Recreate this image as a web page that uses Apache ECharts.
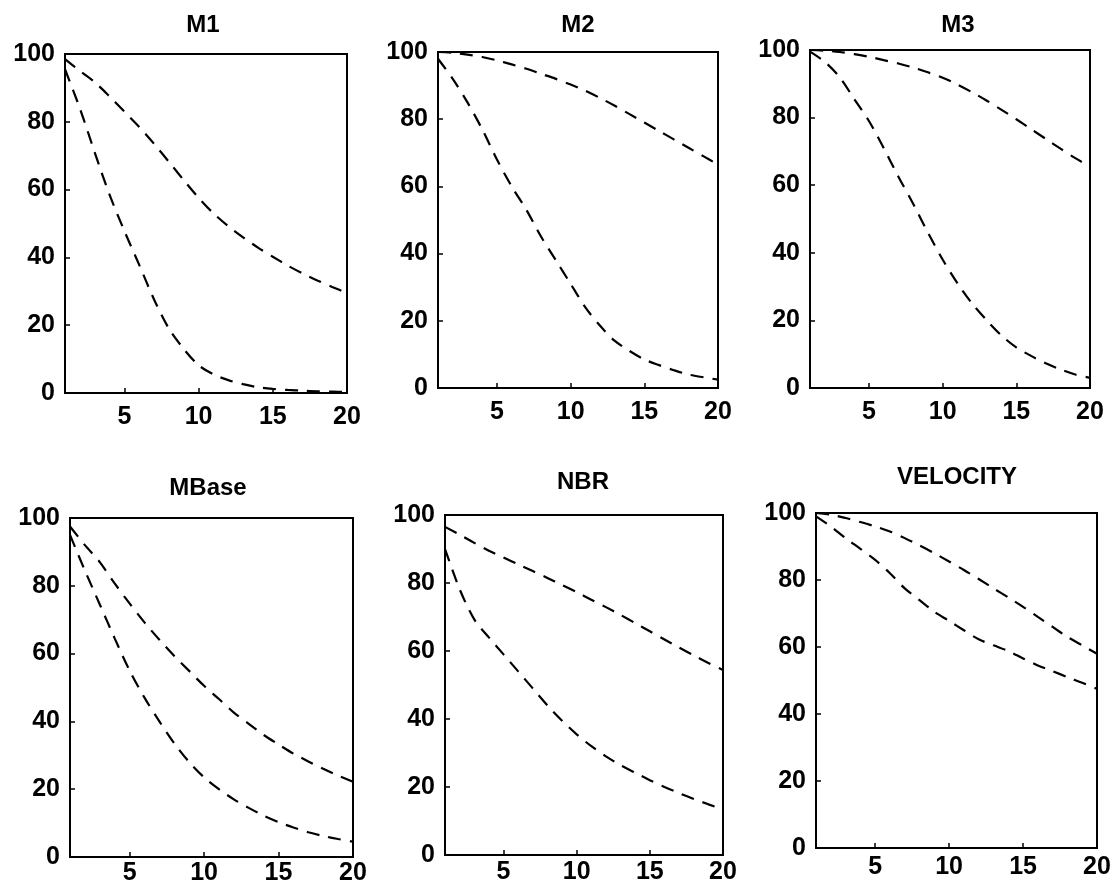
<!DOCTYPE html>
<html>
<head>
<meta charset="utf-8">
<script src="https://cdn.jsdelivr.net/npm/echarts@6/dist/echarts.min.js"></script>
<style>
  html, body { margin: 0; padding: 0; background: #fff; }
  #chart { width: 1119px; height: 896px; }
</style>
</head>
<body>
<div id="chart"></div>
<script>
// x positions shared by every curve
const X = [1, 2, 3, 4, 5, 6, 7, 8, 9, 10, 11, 12, 13, 14, 15, 16, 17, 18, 19, 20];
const X_TICKS = [5, 10, 15, 20];
const TITLES = ["M1", "M2", "M3", "MBase", "NBR", "VELOCITY"];

// values, upper and lower dashed curve per panel
const M1_UPPER = [98.5, 95, 91.7, 87.5, 83, 78.5, 73.5, 68.2, 62.8, 57.6, 53, 49.2, 45.9, 42.9, 40.2, 37.6, 35.3, 33.2, 31.3, 29.5];
const M1_LOWER = [95.5, 84, 71, 58.5, 47.8, 37.8, 27.6, 19, 13, 8.2, 5.5, 3.8, 2.6, 1.7, 1.2, 0.9, 0.7, 0.5, 0.4, 0.3];
const M2_UPPER = [100, 99.8, 99.2, 98.5, 97.5, 96.3, 95, 93.5, 92, 90.3, 88.5, 86.3, 84, 81.5, 79, 76.5, 74, 71.5, 69, 66.5];
const M2_LOWER = [98, 92, 85, 77, 68, 60, 53, 45, 38, 31, 24, 18.5, 14, 11, 8.5, 6.8, 5.3, 4, 3.2, 2.5];
const M3_UPPER = [100, 99.8, 99.4, 98.8, 98, 97, 96, 94.8, 93.4, 91.8, 89.8, 87.5, 85, 82.3, 79.5, 76.6, 73.7, 70.8, 68, 65.5];
const M3_LOWER = [99.5, 96.5, 92, 85.5, 79, 71, 62.5, 54.5, 46, 38, 31, 25, 20, 15.5, 12, 9.5, 7.3, 5.5, 4, 3];
const MBASE_UPPER = [97.5, 92, 87, 80.7, 74.8, 69.2, 64.1, 59.3, 54.9, 50.5, 46.6, 42.6, 39.3, 36, 33.2, 30.5, 28.2, 26, 24, 22.2];
const MBASE_LOWER = [95, 84.5, 74.5, 64.5, 55, 47, 40, 33.5, 28, 23.5, 20, 17, 14.5, 12.2, 10.3, 8.7, 7.3, 6.2, 5.3, 4.5];
const NBR_UPPER = [96.5, 94.2, 91.8, 89.5, 87.5, 85.5, 83.5, 81.5, 79.4, 77.3, 75.1, 72.9, 70.6, 68.2, 65.8, 63.4, 61, 58.7, 56.5, 54.4];
const NBR_LOWER = [90, 78.2, 69.3, 64, 59, 54, 49, 44, 39.5, 35.5, 32, 29, 26.4, 24.2, 22, 20, 18.2, 16.5, 14.9, 13.4];
const VEL_UPPER = [100, 99.5, 98.5, 97.3, 96, 94.5, 92.5, 90.3, 88, 85.5, 83, 80.3, 77.5, 74.8, 72, 69, 66, 63, 60.5, 58];
const VEL_LOWER = [99, 96, 92.5, 89.3, 86, 82, 77.5, 74, 70.5, 67.8, 65, 62.3, 60.5, 58.8, 56.6, 54.5, 52.8, 51, 49.3, 47.5];

const CURVES = [
  [M1_UPPER, M1_LOWER],
  [M2_UPPER, M2_LOWER],
  [M3_UPPER, M3_LOWER],
  [MBASE_UPPER, MBASE_LOWER],
  [NBR_UPPER, NBR_LOWER],
  [VEL_UPPER, VEL_LOWER],
];

// frame boxes, title centres and x-label gap, in page pixels
const FRAMES = [
  { left: 65, top: 54, width: 282, height: 339, tx: 203, ty: 25, gap: 12 },
  { left: 438, top: 52, width: 280, height: 336, tx: 578, ty: 25, gap: 12 },
  { left: 810, top: 50, width: 280, height: 338, tx: 958, ty: 25, gap: 12 },
  { left: 70, top: 518, width: 283, height: 339, tx: 208, ty: 488, gap: 4 },
  { left: 445, top: 515, width: 278, height: 340, tx: 583, ty: 482, gap: 5 },
  { left: 816, top: 513, width: 281, height: 335, tx: 957, ty: 477, gap: 7 },
];

const INK = "#000000";
const FONT = '"Liberation Sans", Arial, sans-serif';

const chart = echarts.init(document.getElementById("chart"));

const grid = FRAMES.map((f) => ({
  left: f.left,
  top: f.top,
  width: f.width,
  height: f.height,
  show: true,
  borderColor: INK,
  borderWidth: 2,
  backgroundColor: "transparent",
}));

const xAxis = FRAMES.map((f, i) => ({
  type: "value",
  gridIndex: i,
  min: 1,
  max: 20,
  axisLine: { show: false },
  splitLine: { show: false },
  axisTick: { show: true, inside: true, length: 5, customValues: X_TICKS, lineStyle: { color: INK, width: 1.5 } },
  axisLabel: {
    customValues: X_TICKS,
    color: INK,
    fontFamily: FONT,
    fontSize: 25,
    fontWeight: "bold",
    margin: f.gap,
  },
}));

const yAxis = FRAMES.map((f, i) => ({
  type: "value",
  gridIndex: i,
  min: 0,
  max: 100,
  interval: 20,
  axisLine: { show: false },
  splitLine: { show: false },
  axisTick: { show: true, inside: true, length: 5, lineStyle: { color: INK, width: 1.5 } },
  axisLabel: {
    color: INK,
    fontFamily: FONT,
    fontSize: 25,
    fontWeight: "bold",
    margin: 10,
  },
}));

const series = [];
CURVES.forEach((pair, i) => {
  pair.forEach((vals) => {
    series.push({
      type: "line",
      xAxisIndex: i,
      yAxisIndex: i,
      data: X.map((x, k) => [x, vals[k]]),
      smooth: 0.3,
      showSymbol: false,
      symbol: "none",
      lineStyle: { color: INK, width: 2.2, type: [13, 9] },
    });
  });
});

const graphic = FRAMES.map((f, i) => ({
  type: "text",
  x: f.tx,
  y: f.ty,
  style: {
    text: TITLES[i],
    fill: INK,
    font: `bold 24px ${FONT}`,
    align: "center",
    verticalAlign: "middle",
    textAlign: "center",
    textVerticalAlign: "middle",
  },
}));

chart.setOption({
  animation: false,
  backgroundColor: "#ffffff",
  grid,
  xAxis,
  yAxis,
  series,
  graphic,
});
</script>
</body>
</html>
